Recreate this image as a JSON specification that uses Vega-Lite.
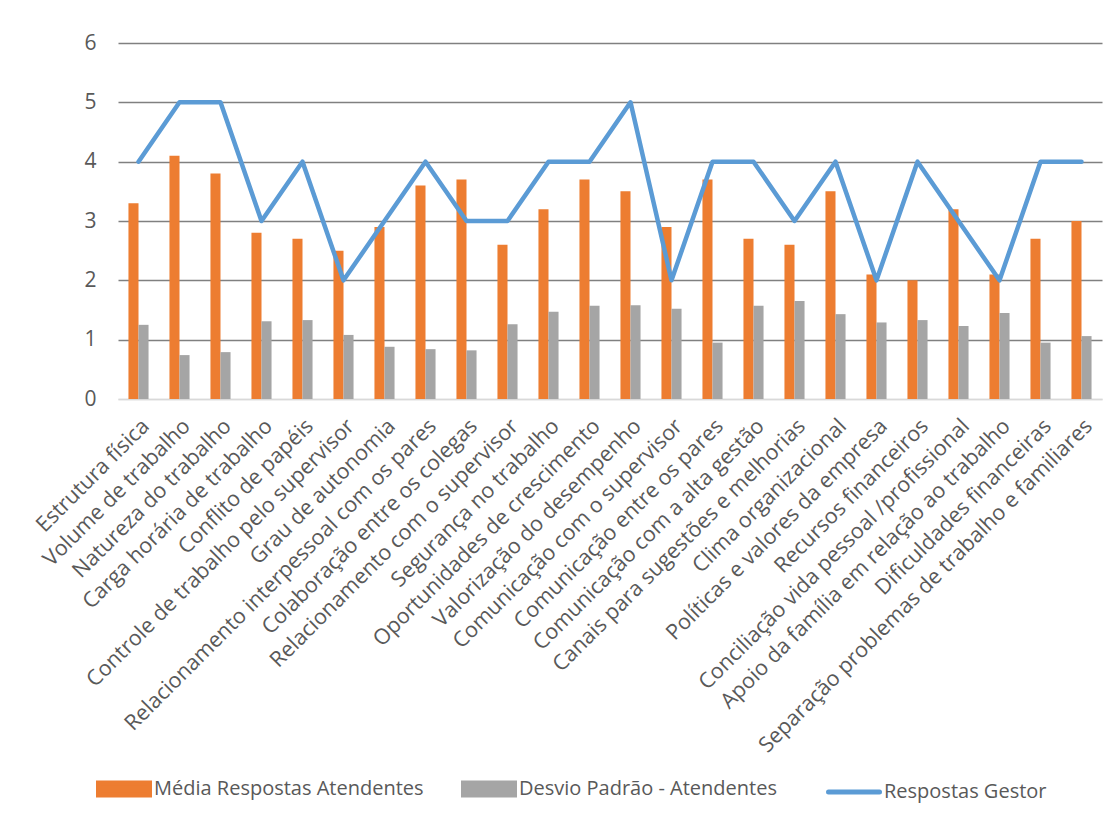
{
  "$schema": "https://vega.github.io/schema/vega-lite/v6.json",
  "width": 984,
  "height": 356,
  "autosize": "none",
  "padding": {"left": 118, "top": 43, "right": 16, "bottom": 424},
  "background": "white",
  "config": {"view": {"stroke": null}, "font": "Open Sans"},
  "data": {"values": [
    {"categoria": "Estrutura física", "serie": "Média Respostas Atendentes", "valor": 3.3},
    {"categoria": "Estrutura física", "serie": "Desvio Padrão - Atendentes", "valor": 1.25},
    {"categoria": "Estrutura física", "serie": "Respostas Gestor", "valor": 4},
    {"categoria": "Volume de trabalho", "serie": "Média Respostas Atendentes", "valor": 4.1},
    {"categoria": "Volume de trabalho", "serie": "Desvio Padrão - Atendentes", "valor": 0.74},
    {"categoria": "Volume de trabalho", "serie": "Respostas Gestor", "valor": 5},
    {"categoria": "Natureza do trabalho", "serie": "Média Respostas Atendentes", "valor": 3.8},
    {"categoria": "Natureza do trabalho", "serie": "Desvio Padrão - Atendentes", "valor": 0.79},
    {"categoria": "Natureza do trabalho", "serie": "Respostas Gestor", "valor": 5},
    {"categoria": "Carga horária de trabalho", "serie": "Média Respostas Atendentes", "valor": 2.8},
    {"categoria": "Carga horária de trabalho", "serie": "Desvio Padrão - Atendentes", "valor": 1.31},
    {"categoria": "Carga horária de trabalho", "serie": "Respostas Gestor", "valor": 3},
    {"categoria": "Conflito de papéis", "serie": "Média Respostas Atendentes", "valor": 2.7},
    {"categoria": "Conflito de papéis", "serie": "Desvio Padrão - Atendentes", "valor": 1.33},
    {"categoria": "Conflito de papéis", "serie": "Respostas Gestor", "valor": 4},
    {"categoria": "Controle de trabalho pelo supervisor", "serie": "Média Respostas Atendentes", "valor": 2.5},
    {"categoria": "Controle de trabalho pelo supervisor", "serie": "Desvio Padrão - Atendentes", "valor": 1.08},
    {"categoria": "Controle de trabalho pelo supervisor", "serie": "Respostas Gestor", "valor": 2},
    {"categoria": "Grau de autonomia", "serie": "Média Respostas Atendentes", "valor": 2.9},
    {"categoria": "Grau de autonomia", "serie": "Desvio Padrão - Atendentes", "valor": 0.88},
    {"categoria": "Grau de autonomia", "serie": "Respostas Gestor", "valor": 3},
    {"categoria": "Relacionamento interpessoal com os pares", "serie": "Média Respostas Atendentes", "valor": 3.6},
    {"categoria": "Relacionamento interpessoal com os pares", "serie": "Desvio Padrão - Atendentes", "valor": 0.84},
    {"categoria": "Relacionamento interpessoal com os pares", "serie": "Respostas Gestor", "valor": 4},
    {"categoria": "Colaboração entre os colegas", "serie": "Média Respostas Atendentes", "valor": 3.7},
    {"categoria": "Colaboração entre os colegas", "serie": "Desvio Padrão - Atendentes", "valor": 0.82},
    {"categoria": "Colaboração entre os colegas", "serie": "Respostas Gestor", "valor": 3},
    {"categoria": "Relacionamento com o supervisor", "serie": "Média Respostas Atendentes", "valor": 2.6},
    {"categoria": "Relacionamento com o supervisor", "serie": "Desvio Padrão - Atendentes", "valor": 1.26},
    {"categoria": "Relacionamento com o supervisor", "serie": "Respostas Gestor", "valor": 3},
    {"categoria": "Segurança no trabalho", "serie": "Média Respostas Atendentes", "valor": 3.2},
    {"categoria": "Segurança no trabalho", "serie": "Desvio Padrão - Atendentes", "valor": 1.47},
    {"categoria": "Segurança no trabalho", "serie": "Respostas Gestor", "valor": 4},
    {"categoria": "Oportunidades de crescimento", "serie": "Média Respostas Atendentes", "valor": 3.7},
    {"categoria": "Oportunidades de crescimento", "serie": "Desvio Padrão - Atendentes", "valor": 1.57},
    {"categoria": "Oportunidades de crescimento", "serie": "Respostas Gestor", "valor": 4},
    {"categoria": "Valorização do desempenho", "serie": "Média Respostas Atendentes", "valor": 3.5},
    {"categoria": "Valorização do desempenho", "serie": "Desvio Padrão - Atendentes", "valor": 1.58},
    {"categoria": "Valorização do desempenho", "serie": "Respostas Gestor", "valor": 5},
    {"categoria": "Comunicação com o supervisor", "serie": "Média Respostas Atendentes", "valor": 2.9},
    {"categoria": "Comunicação com o supervisor", "serie": "Desvio Padrão - Atendentes", "valor": 1.52},
    {"categoria": "Comunicação com o supervisor", "serie": "Respostas Gestor", "valor": 2},
    {"categoria": "Comunicação entre os pares", "serie": "Média Respostas Atendentes", "valor": 3.7},
    {"categoria": "Comunicação entre os pares", "serie": "Desvio Padrão - Atendentes", "valor": 0.95},
    {"categoria": "Comunicação entre os pares", "serie": "Respostas Gestor", "valor": 4},
    {"categoria": "Comunicação com a alta gestão", "serie": "Média Respostas Atendentes", "valor": 2.7},
    {"categoria": "Comunicação com a alta gestão", "serie": "Desvio Padrão - Atendentes", "valor": 1.57},
    {"categoria": "Comunicação com a alta gestão", "serie": "Respostas Gestor", "valor": 4},
    {"categoria": "Canais para sugestões e melhorias", "serie": "Média Respostas Atendentes", "valor": 2.6},
    {"categoria": "Canais para sugestões e melhorias", "serie": "Desvio Padrão - Atendentes", "valor": 1.65},
    {"categoria": "Canais para sugestões e melhorias", "serie": "Respostas Gestor", "valor": 3},
    {"categoria": "Clima organizacional", "serie": "Média Respostas Atendentes", "valor": 3.5},
    {"categoria": "Clima organizacional", "serie": "Desvio Padrão - Atendentes", "valor": 1.43},
    {"categoria": "Clima organizacional", "serie": "Respostas Gestor", "valor": 4},
    {"categoria": "Políticas e valores da empresa", "serie": "Média Respostas Atendentes", "valor": 2.1},
    {"categoria": "Políticas e valores da empresa", "serie": "Desvio Padrão - Atendentes", "valor": 1.29},
    {"categoria": "Políticas e valores da empresa", "serie": "Respostas Gestor", "valor": 2},
    {"categoria": "Recursos financeiros", "serie": "Média Respostas Atendentes", "valor": 2.0},
    {"categoria": "Recursos financeiros", "serie": "Desvio Padrão - Atendentes", "valor": 1.33},
    {"categoria": "Recursos financeiros", "serie": "Respostas Gestor", "valor": 4},
    {"categoria": "Conciliação vida pessoal /profissional", "serie": "Média Respostas Atendentes", "valor": 3.2},
    {"categoria": "Conciliação vida pessoal /profissional", "serie": "Desvio Padrão - Atendentes", "valor": 1.23},
    {"categoria": "Conciliação vida pessoal /profissional", "serie": "Respostas Gestor", "valor": 3},
    {"categoria": "Apoio da família em relação ao trabalho", "serie": "Média Respostas Atendentes", "valor": 2.1},
    {"categoria": "Apoio da família em relação ao trabalho", "serie": "Desvio Padrão - Atendentes", "valor": 1.45},
    {"categoria": "Apoio da família em relação ao trabalho", "serie": "Respostas Gestor", "valor": 2},
    {"categoria": "Dificuldades financeiras", "serie": "Média Respostas Atendentes", "valor": 2.7},
    {"categoria": "Dificuldades financeiras", "serie": "Desvio Padrão - Atendentes", "valor": 0.95},
    {"categoria": "Dificuldades financeiras", "serie": "Respostas Gestor", "valor": 4},
    {"categoria": "Separação problemas de trabalho e familiares", "serie": "Média Respostas Atendentes", "valor": 3.0},
    {"categoria": "Separação problemas de trabalho e familiares", "serie": "Desvio Padrão - Atendentes", "valor": 1.06},
    {"categoria": "Separação problemas de trabalho e familiares", "serie": "Respostas Gestor", "valor": 4}
  ]},
  "encoding": {
    "x": {
      "field": "categoria", "type": "nominal", "sort": null, "title": null,
      "scale": {"paddingInner": 0.51, "paddingOuter": 0.255},
      "axis": {
        "labelAngle": -45, "labelFont": "Open Sans", "labelFontSize": 21.5, "labelColor": "#595959",
        "labelPadding": 16, "ticks": false, "domainColor": "#d9d9d9", "domainWidth": 1.5,
        "labelLimit": 1000, "labelOverlap": false
      }
    },
    "y": {
      "field": "valor", "type": "quantitative", "title": null,
      "scale": {"domain": [0, 6], "nice": false},
      "axis": {
        "values": [0, 1, 2, 3, 4, 5, 6], "domain": false, "ticks": false,
        "labelFont": "Open Sans", "labelFontSize": 21, "labelColor": "#595959", "labelPadding": 22,
        "gridColor": {"condition": {"test": "datum.value === 0", "value": "#d9d9d9"}, "value": "#808080"},
        "gridWidth": 1.4
      }
    },
    "color": {
      "field": "serie", "type": "nominal",
      "scale": {
        "domain": ["Média Respostas Atendentes", "Desvio Padrão - Atendentes", "Respostas Gestor"],
        "range": ["#ED7D31", "#A5A5A5", "#5B9BD5"]
      },
      "legend": {
        "orient": "none", "legendX": -22, "legendY": 718, "direction": "horizontal", "title": null,
        "labelFont": "Open Sans", "labelFontSize": 20, "labelColor": "#595959", "labelLimit": 1000,
        "symbolSize": 2601, "columnPadding": 29, "labelOffset": 2, "gridAlign": "all",
        "encode": {
          "symbols": {
            "update": {
              "shape": {"signal": "datum.value === 'Respostas Gestor' ? 'M-1,0H1' : 'M-1,-0.235H1V0.235H-1Z'"},
              "fill": {"signal": "datum.value === 'Respostas Gestor' ? 'transparent' : scale('color', datum.value)"},
              "stroke": {"signal": "datum.value === 'Respostas Gestor' ? scale('color', datum.value) : 'transparent'"},
              "strokeWidth": {"value": 5},
              "strokeCap": {"value": "round"},
              "opacity": {"value": 1},
              "fillOpacity": {"value": 1},
              "strokeOpacity": {"value": 1}
            }
          }
        }
      }
    }
  },
  "layer": [
    {
      "transform": [{"filter": "datum.serie !== 'Respostas Gestor'"}],
      "mark": {"type": "bar"},
      "encoding": {
        "xOffset": {
          "field": "serie", "type": "nominal",
          "sort": ["Média Respostas Atendentes", "Desvio Padrão - Atendentes"],
          "scale": {"paddingInner": 0, "paddingOuter": 0}
        }
      }
    },
    {
      "transform": [{"filter": "datum.serie === 'Respostas Gestor'"}],
      "mark": {"type": "line", "strokeWidth": 4.5, "strokeCap": "round", "strokeJoin": "round"},
      "encoding": {}
    }
  ]
}
